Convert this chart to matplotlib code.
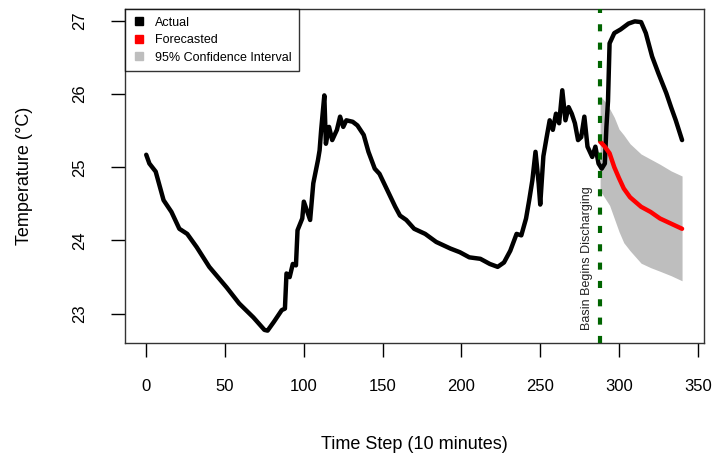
import matplotlib
matplotlib.use("Agg")
import matplotlib.pyplot as plt
from matplotlib.lines import Line2D

plt.rcParams['font.family'] = ['Liberation Sans', 'DejaVu Sans']

actual_step = [0, 2, 6, 11, 16, 21, 26, 32, 40, 51, 59, 68, 75, 77, 81, 86, 88, 89, 91, 93,
               95, 96, 99, 100, 104, 106, 109, 110, 111, 113, 114, 116, 118, 121, 123, 125,
               127, 131, 134, 138, 141, 145, 148, 152, 158, 161, 165, 170, 177, 184, 193,
               199, 205, 212, 218, 223, 227, 231, 235, 238, 241, 243, 245, 247, 249, 250,
               252, 254, 256, 258, 260, 262, 264, 266, 268, 270, 272, 274, 276, 278, 280,
               283, 285, 287, 289, 291, 292, 293, 294, 297, 301, 306, 310, 314, 317, 321,
               325, 330, 333, 336, 340]
actual_temp = [25.17, 25.05, 24.94, 24.55, 24.39, 24.16, 24.09, 23.91, 23.64, 23.36, 23.14,
               22.95, 22.78, 22.77, 22.89, 23.05, 23.07, 23.55, 23.50, 23.68, 23.66, 24.14,
               24.30, 24.53, 24.28, 24.78, 25.10, 25.23, 25.51, 25.98, 25.32, 25.55, 25.37,
               25.51, 25.69, 25.55, 25.64, 25.62, 25.57, 25.44, 25.21, 24.98, 24.91, 24.73,
               24.46, 24.34, 24.28, 24.16, 24.09, 23.98, 23.89, 23.84, 23.77, 23.75, 23.68,
               23.64, 23.70, 23.86, 24.09, 24.07, 24.30, 24.55, 24.82, 25.21, 24.78, 24.49,
               25.15, 25.40, 25.64, 25.51, 25.73, 25.60, 26.05, 25.64, 25.82, 25.73, 25.60,
               25.37, 25.41, 25.69, 25.28, 25.14, 25.28, 25.05, 24.98, 25.05, 25.55, 25.90,
               26.69, 26.83, 26.88, 26.96, 26.99, 26.98, 26.83, 26.51, 26.28, 26.01, 25.82,
               25.64, 25.37]

fc_step = [288, 291, 294, 297, 300, 303, 307, 314, 320, 326, 333, 340]
fc_temp = [25.35, 25.28, 25.19, 25.00, 24.85, 24.71, 24.59, 24.46, 24.39, 24.30, 24.23, 24.16]
ci_upper = [25.97, 25.90, 25.80, 25.68, 25.52, 25.44, 25.32, 25.18, 25.11, 25.04, 24.95, 24.88]
ci_lower = [24.68, 24.58, 24.48, 24.30, 24.12, 23.97, 23.86, 23.69, 23.63, 23.58, 23.52, 23.45]

event_step = 288
event_label = "Basin Begins Discharging"
legend_labels = ["Actual", "Forecasted", "95% Confidence Interval"]
x_ticks = [0, 50, 100, 150, 200, 250, 300, 350]
y_ticks = [23, 24, 25, 26, 27]

fig = plt.figure(figsize=(7.14, 4.67), dpi=100)
ax = fig.add_axes([124.8 / 714, 1 - 343 / 467, (703.5 - 124.8) / 714, (343 - 9) / 467])

ax.fill_between(fc_step, ci_lower, ci_upper, color='#bebebe', linewidth=0, zorder=1)
ax.plot(actual_step, actual_temp, color='black', lw=3.2, solid_capstyle='round',
        solid_joinstyle='round', zorder=3)
ax.plot(fc_step, fc_temp, color='red', lw=3.2, solid_capstyle='round',
        solid_joinstyle='round', zorder=4)
ax.axvline(event_step, color='#006400', lw=3.0, linestyle=(0, (1.7, 2.7)), zorder=5)

# R-style 4% axis extension
xmin, xmax = min(actual_step), max(actual_step)
ally = actual_temp + ci_upper + ci_lower
ymin, ymax = min(ally), max(ally)
ax.set_xlim(xmin - 0.04 * (xmax - xmin), xmax + 0.04 * (xmax - xmin))
ax.set_ylim(ymin - 0.04 * (ymax - ymin), ymax + 0.04 * (ymax - ymin))

ax.text(event_step - 8.5, 22.78, event_label, rotation=90, fontsize=9, ha='center',
        va='bottom', color='#222222', zorder=6)

ax.set_xticks(x_ticks)
ax.set_yticks(y_ticks)
ax.set_yticklabels([str(v) for v in y_ticks], rotation=90, va='center')
ax.tick_params(axis='x', length=10, width=1, pad=16, labelsize=12)
ax.tick_params(axis='y', length=10, width=1, pad=17, labelsize=12)
for s in ax.spines.values():
    s.set_linewidth(1.0)
    s.set_color('#333333')

ax.set_xlabel("Time Step (10 minutes)", fontsize=13, labelpad=30)
ax.set_ylabel("Temperature (\u00b0C)", fontsize=13, labelpad=28)

handles = [Line2D([], [], marker='s', color='none', markerfacecolor=c, markeredgecolor=c,
                  markersize=6) for c in ['black', 'red', '#bebebe']]
leg = ax.legend(handles, legend_labels, loc='upper left', bbox_to_anchor=(0, 1),
                borderaxespad=0, fontsize=9, frameon=True, fancybox=False,
                edgecolor='black', handlelength=1.0, handletextpad=0.8,
                labelspacing=0.45, borderpad=0.6)
leg.get_frame().set_linewidth(1.0)

fig.savefig("out.png", dpi=100)
